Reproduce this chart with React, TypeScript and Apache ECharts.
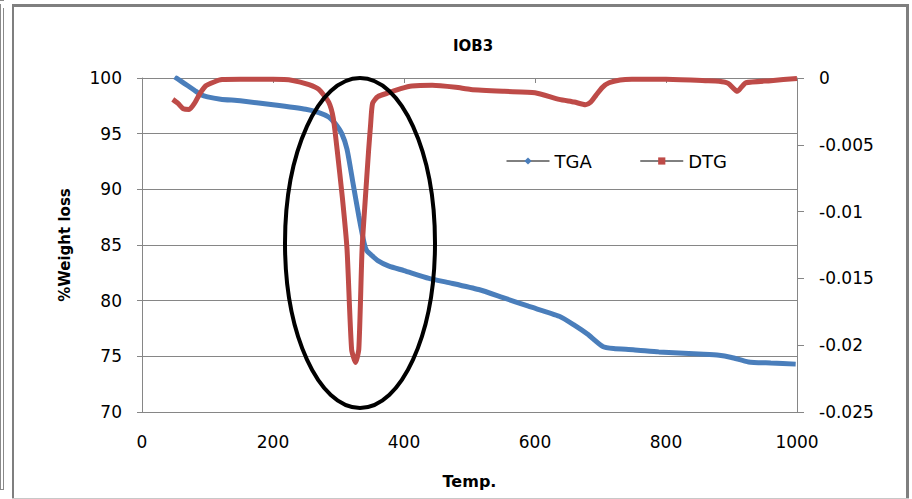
import React, { useEffect, useRef } from "react";
import * as echarts from "echarts";

// Axis ranges / tick steps
const tempRange = [0, 1000, 200];
const weightRange = [70, 100, 5];
const dtgRange = [-0.025, 0, 0.005];

// TGA series (%Weight loss vs Temp.)
const tgaTemp = [50, 60, 70, 80, 90, 100, 120, 150, 200, 250, 270, 285, 295, 305, 313, 322, 331, 339, 343, 350, 360, 377, 400, 438, 470, 514, 550, 590, 637, 660, 680, 703, 720, 750, 789, 850, 881, 900, 926, 960, 998];
const tgaWeight = [100.1, 99.7, 99.3, 98.9, 98.5, 98.3, 98.1, 97.95, 97.6, 97.2, 96.9, 96.5, 95.9, 95.0, 93.6, 90.6, 87.6, 85.2, 84.5, 84.1, 83.6, 83.1, 82.7, 82.0, 81.6, 81.0, 80.3, 79.5, 78.6, 77.8, 77.0, 75.9, 75.7, 75.6, 75.4, 75.2, 75.1, 74.9, 74.5, 74.4, 74.3];

// DTG series (derivative vs Temp.)
const dtgTemp = [47, 55, 63, 72, 80, 88, 97, 110, 122, 150, 200, 230, 255, 270, 285, 292, 298, 306, 313, 320, 326, 331, 336, 341, 346, 349, 352, 360, 377, 395, 412, 443, 479, 502, 553, 600, 637, 660, 677, 685, 693, 703, 713, 730, 748, 800, 860, 881, 895, 909, 915, 922, 960, 1000];
const dtgValue = [-0.0016, -0.0019, -0.0023, -0.00236, -0.0019, -0.0012, -0.0006, -0.0003, -0.00012, -0.0001, -0.0001, -0.00018, -0.0005, -0.00086, -0.0018, -0.003, -0.0054, -0.009, -0.0128, -0.0203, -0.0213, -0.0203, -0.0128, -0.009, -0.0054, -0.0035, -0.0019, -0.0014, -0.0011, -0.0008, -0.0006, -0.00055, -0.0007, -0.00086, -0.001, -0.0011, -0.0016, -0.0018, -0.002, -0.0018, -0.0013, -0.0007, -0.00036, -0.00015, -0.0001, -0.0001, -0.0002, -0.00024, -0.0004, -0.001, -0.0007, -0.00036, -0.0002, -0.00003];

const FONT = "DejaVu Sans";
const AXIS_GRAY = "#868686";

export default function App() {
  const ref = useRef<HTMLDivElement>(null);
  useEffect(() => {
    document.body.style.margin = "0";
    const chart = echarts.init(ref.current!, null, { renderer: "svg" });
    const tgaData = tgaTemp.map((t, i) => [t, tgaWeight[i]]);
    const dtgData = dtgTemp.map((t, i) => [t, dtgValue[i]]);
    chart.setOption({
      animation: false,
      backgroundColor: "#fff",
      title: {
        text: "IOB3",
        left: 468,
        top: 33,
        textAlign: "center",
        textStyle: { fontFamily: FONT, fontSize: 15, fontWeight: "bold", color: "#000" },
      },
      legend: {
        data: ["TGA", "DTG"],
        left: 506,
        top: 152,
        padding: 0,
        itemWidth: 43,
        itemHeight: 9,
        itemGap: 48,
        lineStyle: { color: "#000", width: 1 },
        textStyle: { fontFamily: FONT, fontSize: 18, color: "#000" },
      },
      grid: { left: 142, top: 78, width: 655, height: 334, containLabel: false },
      xAxis: {
        type: "value",
        min: tempRange[0],
        max: tempRange[1],
        interval: tempRange[2],
        name: "Temp.",
        nameLocation: "middle",
        nameGap: 61,
        nameTextStyle: { fontFamily: FONT, fontSize: 16, fontWeight: "bold", color: "#000" },
        axisLine: { lineStyle: { color: AXIS_GRAY, width: 1 } },
        axisTick: { inside: false, length: 5, lineStyle: { color: AXIS_GRAY } },
        splitLine: { show: false },
        axisLabel: { margin: 21, fontFamily: FONT, fontSize: 17, color: "#000", formatter: (v: number) => String(v) },
      },
      yAxis: [
        {
          type: "value",
          position: "left",
          min: weightRange[0],
          max: weightRange[1],
          interval: weightRange[2],
          name: "%Weight loss",
          nameLocation: "middle",
          nameGap: 70,
          nameTextStyle: { fontFamily: FONT, fontSize: 15, fontWeight: "bold", color: "#000" },
          axisLine: { show: true, lineStyle: { color: AXIS_GRAY, width: 1 } },
          axisTick: { show: true, inside: false, length: 5, lineStyle: { color: AXIS_GRAY } },
          splitLine: { show: true, lineStyle: { color: AXIS_GRAY, width: 1 } },
          axisLabel: { margin: 20, fontFamily: FONT, fontSize: 17, color: "#000" },
        },
        {
          type: "value",
          position: "right",
          min: dtgRange[0],
          max: dtgRange[1],
          interval: dtgRange[2],
          axisLine: { show: true, lineStyle: { color: AXIS_GRAY, width: 1 } },
          axisTick: { show: true, inside: false, length: 7, lineStyle: { color: AXIS_GRAY } },
          splitLine: { show: false },
          axisLabel: {
            margin: 22,
            fontFamily: FONT,
            fontSize: 17,
            color: "#000",
            formatter: (v: number) => String(+v.toFixed(3)),
          },
        },
      ],
      series: [
        {
          name: "TGA",
          type: "line",
          yAxisIndex: 0,
          data: tgaData,
          symbol: "diamond",
          symbolSize: 8,
          showSymbol: false,
          smooth: 0.2,
          color: "#4a7ebb",
          lineStyle: { color: "#4a7ebb", width: 5 },
          z: 2,
        },
        {
          name: "DTG",
          type: "line",
          yAxisIndex: 1,
          data: dtgData,
          symbol: "rect",
          symbolSize: 7,
          showSymbol: false,
          smooth: 0.2,
          color: "#be4b48",
          lineStyle: { color: "#be4b48", width: 5 },
          z: 3,
        },
      ],
      graphic: [
        { type: "ellipse", shape: { cx: 360, cy: 243, rx: 75, ry: 165 }, style: { fill: "none", stroke: "#000", lineWidth: 4 }, z: 100 },
        // outer frame
        { type: "rect", shape: { x: 12, y: 4, width: 897, height: 3 }, style: { fill: "#7f7f7f" }, z: 100 },
        { type: "rect", shape: { x: 12, y: 4, width: 2, height: 495 }, style: { fill: "#7f7f7f" }, z: 100 },
        { type: "rect", shape: { x: 906, y: 4, width: 3, height: 495 }, style: { fill: "#7f7f7f" }, z: 100 },
        { type: "line", shape: { x1: 12, y1: 498.5, x2: 909, y2: 498.5 }, style: { stroke: "#c8c8c8", lineWidth: 1 }, z: 100 },
        // left neighbouring frame fragment
        { type: "line", shape: { x1: 0.5, y1: 4, x2: 0.5, y2: 489.5 }, style: { stroke: "#8a8a8a", lineWidth: 1 }, z: 100 },
        { type: "line", shape: { x1: 3.5, y1: 8, x2: 3.5, y2: 489.5 }, style: { stroke: "#8a8a8a", lineWidth: 1 }, z: 100 },
        { type: "line", shape: { x1: 0, y1: 489.5, x2: 4, y2: 489.5 }, style: { stroke: "#8a8a8a", lineWidth: 1 }, z: 100 },
        { type: "line", shape: { x1: 0, y1: 0.5, x2: 4, y2: 0.5 }, style: { stroke: "#8a8a8a", lineWidth: 1 }, z: 100 },
      ],
    });
    return () => chart.dispose();
  }, []);
  return <div ref={ref} style={{ width: 912, height: 499 }} />;
}
